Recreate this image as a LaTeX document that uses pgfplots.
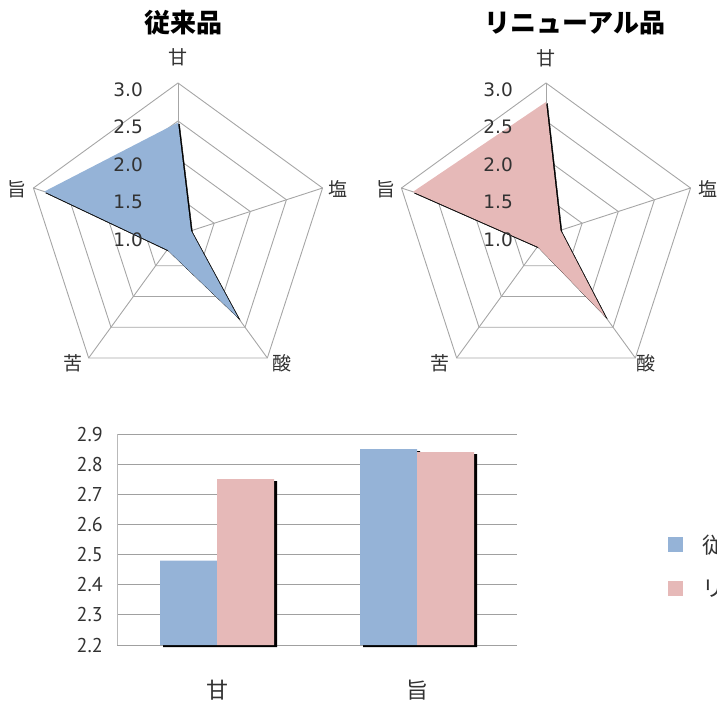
\documentclass[border=0pt]{standalone}
\usepackage{fontspec}
\usepackage{pgfplots}
\pgfplotsset{compat=1.18}
\usepgfplotslibrary{polar}
\newfontfamily\jp{Noto Sans CJK JP}
\newfontfamily\dv{DejaVu Sans}
\newfontfamily\ptf{PT Sans}
\definecolor{rblue}{RGB}{149,179,215}
\definecolor{rpink}{RGB}{230,185,184}
\definecolor{rgrid}{RGB}{166,166,166}
\definecolor{bgrid}{RGB}{160,160,160}
\definecolor{txt}{RGB}{50,50,50}
\pgfplotsset{
  radar/.style={hide axis, scale only axis, width=304pt, height=304pt,
    ymin=0, ymax=2, y filter/.expression={y-1}, clip=false, anchor=origin, no markers},
  rg/.style={rgrid, line width=0.9pt},
}
\newcommand\radargrid{%
  \addplot[rg] coordinates {(90,3)(18,3)(-54,3)(-126,3)(162,3)(90,3)};
  \addplot[rg] coordinates {(90,2.5)(18,2.5)(-54,2.5)(-126,2.5)(162,2.5)(90,2.5)};
  \addplot[rg] coordinates {(90,2)(18,2)(-54,2)(-126,2)(162,2)(90,2)};
  \addplot[rg] coordinates {(90,1.5)(18,1.5)(-54,1.5)(-126,1.5)(162,1.5)(90,1.5)};
  \addplot[rg] coordinates {(90,1)(90,3)};
  \addplot[rg] coordinates {(18,1)(18,3)};
  \addplot[rg] coordinates {(-54,1)(-54,3)};
  \addplot[rg] coordinates {(-126,1)(-126,3)};
  \addplot[rg] coordinates {(162,1)(162,3)};
}
\begin{document}
\begin{tikzpicture}
\useasboundingbox (0pt,0pt) rectangle (717pt,704pt);
% titles
\node[font=\jp\bfseries\fontsize{26}{26}\selectfont] at (183pt,681pt) {従来品};
\node[font=\jp\bfseries\fontsize{26}{26}\selectfont] at (575pt,681pt) {リニューアル品};
% radar 1
\begin{polaraxis}[radar, at={(178pt,469pt)}]
\radargrid
\addplot[fill=black, draw=black, shift={(1.5pt,-1.5pt)}] coordinates {(90,2.48)(18,1.18)(-54,2.35)(-126,1.24)(162,2.85)(90,2.48)};
\addplot[fill=rblue, draw=none] coordinates {(90,2.48)(18,1.18)(-54,2.35)(-126,1.24)(162,2.85)(90,2.48)};
\end{polaraxis}
% radar 2
\begin{polaraxis}[radar, at={(546pt,469pt)}]
\radargrid
\addplot[fill=black, draw=black, shift={(1.5pt,-1.5pt)}] coordinates {(90,2.75)(18,1.20)(-54,2.33)(-126,1.19)(162,2.84)(90,2.75)};
\addplot[fill=rpink, draw=none] coordinates {(90,2.75)(18,1.20)(-54,2.33)(-126,1.19)(162,2.84)(90,2.75)};
\end{polaraxis}
% radar labels
\begin{scope}[every node/.style={font=\jp\fontsize{19}{19}\selectfont, text=txt}]
\node at (178pt,647pt) {甘};
\node at (338pt,515pt) {塩};
\node at (282pt,341pt) {酸};
\node at (73pt,341pt) {苦};
\node at (17pt,515pt) {旨};
\node at (546pt,646pt) {甘};
\node at (708pt,515pt) {塩};
\node at (646pt,341pt) {酸};
\node at (440pt,341pt) {苦};
\node at (386pt,515pt) {旨};
\end{scope}
\begin{scope}[every node/.style={font=\dv\fontsize{18.5}{18.5}\selectfont, text=txt, anchor=east, inner sep=0pt}]
\foreach \xx in {143,513}{
\node at (\xx pt,614pt) {3.0};
\node at (\xx pt,577pt) {2.5};
\node at (\xx pt,539pt) {2.0};
\node at (\xx pt,502pt) {1.5};
\node at (\xx pt,464pt) {1.0};
}
\end{scope}
% bar chart
\begin{axis}[at={(117pt,59pt)}, anchor=south west, scale only axis,
  width=400pt, height=211pt,
  xmin=-0.5, xmax=1.5, ymin=2.2, ymax=2.9,
  y coord trafo/.code={\pgfmathparse{#1-2.2}},
  y coord inv trafo/.code={\pgfmathparse{#1+2.2}},
  clip=false,
  ytick={2.2,2.3,2.4,2.5,2.6,2.7,2.8,2.9},
  ymajorgrids, grid style={bgrid, line width=1pt},
  major tick length=0pt, axis line style={draw=none},
  xtick={0,1}, xticklabels={甘,旨},
  xticklabel style={font=\jp\fontsize{22}{22}\selectfont, text=txt, anchor=center, yshift=-45pt},
  /pgf/number format/assume math mode=true,
  yticklabel style={font=\ptf\fontsize{20}{20}\selectfont, text=txt, anchor=east, inner sep=0pt, xshift=-14pt,
    /pgf/number format/fixed, /pgf/number format/fixed zerofill, /pgf/number format/precision=1},
  legend image code/.code={\fill[#1,draw=none] (0pt,-7.5pt) rectangle (15pt,7.5pt); \path (32pt,0pt);},
  legend style={at={(axis description cs:1.3775,0.372)}, anchor=west, draw=none, fill=none,
    inner sep=0pt, row sep=20pt, font=\jp\fontsize{22}{22}\selectfont, text=txt},
  legend cell align=left,
]
\draw[gray!55, line width=1pt] (rel axis cs:0,0) -- (rel axis cs:0,1);
\addplot[ybar, bar width=57pt, bar shift=-28.5pt, fill=black, draw=none, shift={(3pt,-2pt)}, forget plot] coordinates {(0,2.48)(1,2.85)};
\addplot[ybar, bar width=57pt, bar shift=28.5pt, fill=black, draw=none, shift={(3pt,-2pt)}, forget plot] coordinates {(0,2.75)(1,2.84)};
\addplot[ybar, bar width=57pt, bar shift=-28.5pt, fill=rblue, draw=none] coordinates {(0,2.48)(1,2.85)};
\addplot[ybar, bar width=57pt, bar shift=28.5pt, fill=rpink, draw=none] coordinates {(0,2.75)(1,2.84)};
\legend{従来品,リニューアル品}
\end{axis}
\end{tikzpicture}
\end{document}
